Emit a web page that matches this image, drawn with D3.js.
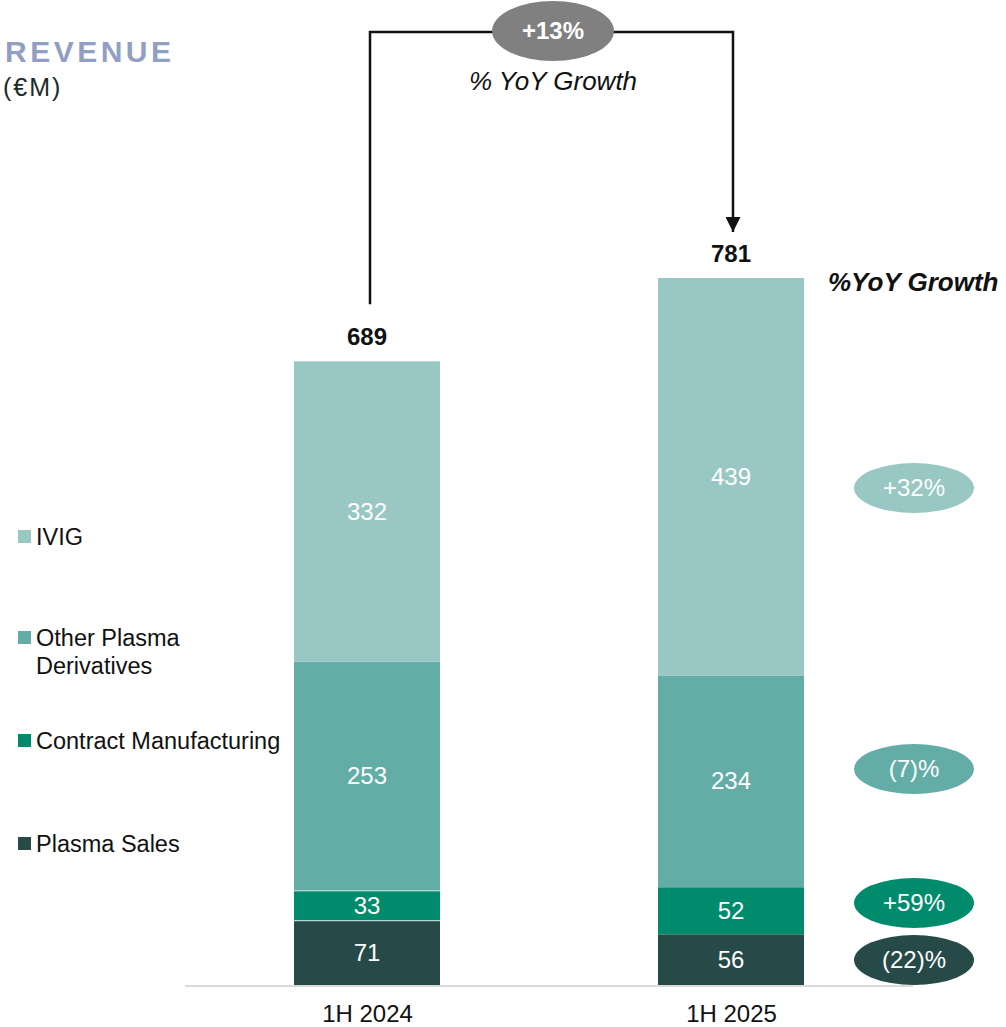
<!DOCTYPE html>
<html>
<head>
<meta charset="utf-8">
<script src="https://cdn.jsdelivr.net/npm/d3@7"></script>
<style>
  body { margin: 0; background: #fff; }
  svg { font-family: "Liberation Sans", Arial, sans-serif; }
</style>
</head>
<body>
<div id="chart"></div>
<script>
// chart data
var periods = ["1H 2024", "1H 2025"];
var segments = ["Plasma Sales", "Contract Manufacturing", "Other Plasma Derivatives", "IVIG"];
var plasmaSales = [71, 56];
var contractMfg = [33, 52];
var otherDerivs = [253, 234];
var ivig = [332, 439];
var totals = [689, 781];
var growth = ["(22)%", "+59%", "(7)%", "+32%"];
var totalGrowth = "+13%";

var colors = ["#264a47", "#008c6c", "#63ada6", "#99c8c4"];

var width = 1006, height = 1027;
var svg = d3.select("#chart").append("svg").attr("width", width).attr("height", height);

// build rows for stacking
var rows = periods.map(function(p, i) {
  return { period: p, "Plasma Sales": plasmaSales[i], "Contract Manufacturing": contractMfg[i],
           "Other Plasma Derivatives": otherDerivs[i], "IVIG": ivig[i] };
});
var stacked = d3.stack().keys(segments)(rows);

var x = d3.scalePoint().domain(periods).range([367, 731]);
var barW = 146;
var y = d3.scaleLinear().domain([0, 781]).range([985, 278]);

// bars (thin light edge between the 1H 2024 segments)
var layer = svg.selectAll("g.layer").data(stacked).enter().append("g")
  .attr("class", "layer").attr("fill", function(d, i) { return colors[i]; });

layer.selectAll("rect").data(function(d) { return d; }).enter().append("rect")
  .attr("x", function(d) { return x(d.data.period) - barW / 2; })
  .attr("width", barW)
  .attr("y", function(d) { return y(d[1]); })
  .attr("height", function(d) { return y(d[0]) - y(d[1]); });

layer.selectAll("text").data(function(d) { return d.map(function(v) { return { v: v, key: d.key }; }); })
  .enter().append("text")
  .attr("x", function(d) { return x(d.v.data.period); })
  .attr("y", function(d) { return (y(d.v[0]) + y(d.v[1])) / 2 + 8; })
  .attr("text-anchor", "middle").attr("fill", "#fff").attr("font-size", 24)
  .text(function(d) { return d.v.data[d.key]; });

// light separators in the first bar
svg.selectAll("line.sep").data([plasmaSales[0], plasmaSales[0] + contractMfg[0]]).enter().append("line")
  .attr("class", "sep")
  .attr("x1", x(periods[0]) - barW / 2).attr("x2", x(periods[0]) + barW / 2)
  .attr("y1", function(d) { return y(d); }).attr("y2", function(d) { return y(d); })
  .attr("stroke", "#cfe6e2").attr("stroke-width", 1);

// baseline
svg.append("line").attr("x1", 185).attr("x2", 913).attr("y1", 986).attr("y2", 986)
  .attr("stroke", "#d9d9d9").attr("stroke-width", 2);

// category labels
var xAxis = svg.append("g").attr("transform", "translate(0,986)")
  .call(d3.axisBottom(x).tickSize(0).tickPadding(19));
xAxis.select(".domain").remove();
xAxis.selectAll("text").attr("font-size", 24).attr("fill", "#111").attr("font-family", "Liberation Sans, Arial, sans-serif");

// totals
svg.selectAll("text.total").data(totals).enter().append("text")
  .attr("class", "total")
  .attr("x", function(d, i) { return x(periods[i]); })
  .attr("y", function(d) { return y(d) - 16; })
  .attr("text-anchor", "middle").attr("font-weight", "bold").attr("font-size", 24).attr("fill", "#111")
  .text(function(d) { return d; });

// connector between totals
var xa = x(periods[0]) + 3, xb = x(periods[1]) + 2, topY = 32;
svg.append("defs").append("marker").attr("id", "arr").attr("viewBox", "0 0 10 10")
  .attr("refX", 10).attr("refY", 5).attr("markerWidth", 6).attr("markerHeight", 6)
  .attr("markerUnits", "strokeWidth").attr("orient", "auto")
  .append("path").attr("d", "M0,0 L10,5 L0,10 Z").attr("fill", "#111");
svg.append("path")
  .attr("d", "M" + xa + "," + (y(totals[0]) - 57) + " L" + xa + "," + topY + " L" + xb + "," + topY + " L" + xb + "," + (y(totals[1]) - 46))
  .attr("fill", "none").attr("stroke", "#111").attr("stroke-width", 2.5)
  .attr("marker-end", "url(#arr)");
svg.append("ellipse").attr("cx", 553).attr("cy", 31).attr("rx", 61).attr("ry", 30).attr("fill", "#808080");
svg.append("text").attr("x", 553).attr("y", 39).attr("text-anchor", "middle").attr("fill", "#fff")
  .attr("font-weight", "bold").attr("font-size", 24).text(totalGrowth);
svg.append("text").attr("x", 553).attr("y", 90).attr("text-anchor", "middle").attr("fill", "#111")
  .attr("font-style", "italic").attr("font-size", 26).text("% YoY Growth");

// growth pills
svg.append("text").attr("x", 828).attr("y", 291).attr("fill", "#111").attr("font-weight", "bold")
  .attr("font-style", "italic").attr("font-size", 26).text("%YoY Growth");
var pillY = [960, 903, 769, 488];
svg.selectAll("ellipse.pill").data(growth).enter().append("ellipse")
  .attr("class", "pill")
  .attr("cx", 914).attr("cy", function(d, i) { return pillY[i]; })
  .attr("rx", 60).attr("ry", 25)
  .attr("fill", function(d, i) { return colors[i]; });
svg.selectAll("text.pill").data(growth).enter().append("text")
  .attr("class", "pill")
  .attr("x", 914).attr("y", function(d, i) { return pillY[i] + 8; })
  .attr("text-anchor", "middle").attr("fill", "#fff").attr("font-size", 24)
  .text(function(d) { return d; });

// title
svg.append("text").attr("x", 5).attr("y", 62).attr("fill", "#929fc4").attr("font-weight", "bold")
  .attr("font-size", 30).attr("letter-spacing", 3.5).text("REVENUE");
svg.append("text").attr("x", 3).attr("y", 96).attr("fill", "#1d2b2a").attr("font-size", 25)
  .attr("letter-spacing", 2).text("(€M)");

// legend
var legendItems = [
  { name: ["IVIG"], c: colors[3], y: 545 },
  { name: ["Other Plasma", "Derivatives"], c: colors[2], y: 646 },
  { name: ["Contract Manufacturing"], c: colors[1], y: 749 },
  { name: ["Plasma Sales"], c: colors[0], y: 852 }
];
var lg = svg.selectAll("g.legend").data(legendItems).enter().append("g").attr("class", "legend");
lg.append("rect").attr("x", 18).attr("y", function(d) { return d.y - 15; }).attr("width", 13).attr("height", 13)
  .attr("fill", function(d) { return d.c; });
lg.append("text").attr("x", 36).attr("y", function(d) { return d.y; }).attr("font-size", 23.5).attr("fill", "#111")
  .selectAll("tspan").data(function(d) { return d.name; }).enter().append("tspan")
  .attr("x", 36).attr("dy", function(d, i) { return i ? 28 : 0; })
  .text(function(d) { return d; });
</script>
</body>
</html>
